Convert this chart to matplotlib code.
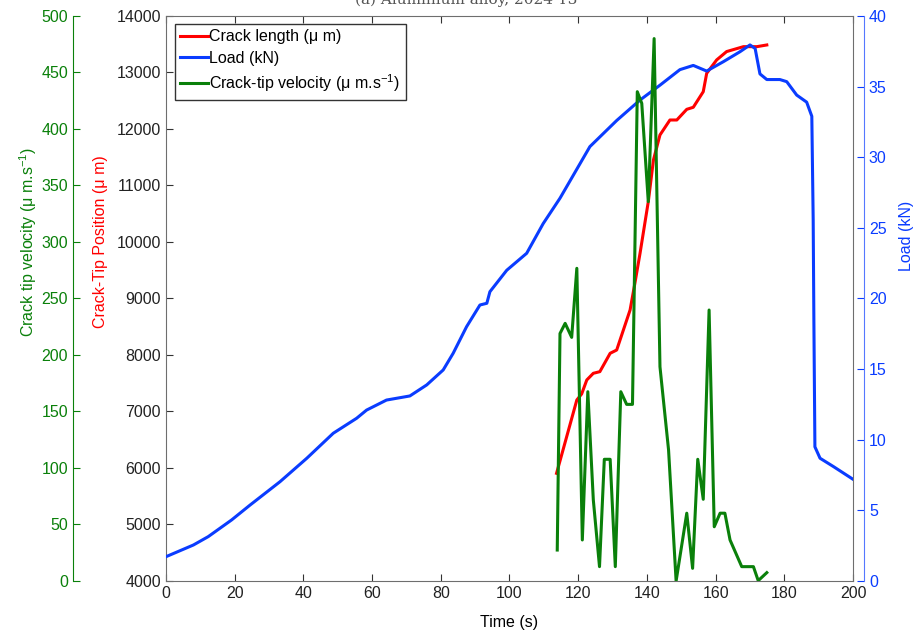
import matplotlib
matplotlib.use("Agg")
import matplotlib.pyplot as plt

plt.rcParams['font.family'] = ['Liberation Sans', 'DejaVu Sans']
plt.rcParams['mathtext.fontset'] = 'custom'
plt.rcParams['mathtext.rm'] = 'Liberation Sans'
plt.rcParams['mathtext.default'] = 'regular'
plt.rcParams['font.size'] = 11.5

# load curve (kN) vs time (s)
load_t = [0, 8, 12.3, 19.1, 24.5, 33.2, 41, 48.7, 55.5, 58.4, 64.2, 71, 75.9, 80.7,
          83.6, 87.5, 91.4, 93.4, 94.3, 99.2, 105, 109.8, 114.7, 123.4, 131.2, 138,
          143.8, 149.6, 153.5, 157.4, 162.3, 167.1, 170, 171.5, 172.9, 174.9, 178.7,
          180.7, 183.6, 186.5, 188, 188.4, 188.6, 188.9, 190.4, 194.3, 200]
load_kn = [1.72, 2.55, 3.14, 4.32, 5.38, 7.03, 8.69, 10.46, 11.52, 12.1, 12.81, 13.1,
           13.88, 14.94, 16.12, 18.0, 19.54, 19.66, 20.48, 22.0, 23.2, 25.3, 27.1,
           30.75, 32.6, 34.05, 35.1, 36.2, 36.5, 36.1, 36.77, 37.47, 37.95, 37.7,
           35.9, 35.5, 35.5, 35.35, 34.4, 33.9, 32.9, 25.56, 18.5, 9.5, 8.69, 8.1, 7.2]

# crack length (um)
crack_t = [113.7, 119.6, 121, 122.5, 124.4, 126.3, 129.3, 131.2, 135.1, 136.5, 138,
           140.4, 141.9, 143.8, 146.7, 148.7, 151.6, 153.5, 156.4, 157.4, 160.3,
           163.2, 168.1, 172, 174.9]
crack_um = [5906, 7204, 7310, 7558, 7676, 7705, 8030, 8088, 8796, 9269, 9800, 10713,
            11451, 11894, 12159, 12159, 12348, 12384, 12660, 12985, 13222, 13370,
            13457, 13457, 13487]

# crack-tip velocity (um/s)
vel_t = [113.9, 114.7, 116.2, 118.1, 119.6, 121.2, 122.8, 124.4, 126.2, 127.6, 129.3,
         130.8, 132.4, 134.1, 135.8, 137.2, 138.5, 140.4, 142.1, 143.8, 146.3, 148.5,
         151.6, 153.3, 154.8, 156.4, 158.1, 159.6, 161.3, 162.7, 164.2, 167.6, 171,
         172.4, 174.9]
vel = [27.4, 219, 228, 215.6, 276.7, 36.3, 167.5, 71.7, 12.7, 107.7, 107.7, 12.7,
       167.5, 156.3, 156.3, 433, 422.7, 335.7, 480, 189.6, 116, 0, 60, 11.2, 107.7,
       72.3, 239.8, 48, 60, 60, 36.3, 12.7, 12.7, 0.3, 7.4]

red = '#ff0000'
blue = '#0a3cff'
green = '#0a800a'
gray = '#6e6e6e'

fig = plt.figure(figsize=(9.23, 6.34), dpi=100)
ax = fig.add_axes([0.1798, 0.0836, 0.7444, 0.8912])

l1, = ax.plot(crack_t, crack_um, color=red, lw=2.2, zorder=3)
ax.set_xlim(0, 200)
ax.set_ylim(4000, 14000)
ax.set_xticks(range(0, 201, 20))
ax.set_yticks(range(4000, 14001, 1000))
ax.tick_params(direction='in', length=5, color='#333333', top=True, right=True,
               labelcolor='#222222')
for s in ax.spines.values():
    s.set_color(gray)
ax.set_xlabel('Time (s)', labelpad=10)
ax.set_ylabel('Crack-Tip Position (μ m)', color=red, labelpad=6, y=0.6)

# load axis on the right
ax2 = ax.twinx()
l2, = ax2.plot(load_t, load_kn, color=blue, lw=2.2)
ax2.set_ylim(0, 40)
ax2.set_yticks(range(0, 41, 5))
ax2.spines['right'].set_position(('axes', 1.016))
ax2.spines['right'].set_color('#5577ff')
for k in ['left', 'top', 'bottom']:
    ax2.spines[k].set_visible(False)
ax2.tick_params(direction='in', length=5, colors=blue)
ax2.set_ylabel('Load (kN)', color=blue, labelpad=9, y=0.61)

# velocity axis far left
ax3 = ax.twinx()
l3, = ax3.plot(vel_t, vel, color=green, lw=2.2)
ax3.set_ylim(0, 500)
ax3.set_yticks(range(0, 501, 50))
ax3.yaxis.set_ticks_position('left')
ax3.yaxis.set_label_position('left')
ax3.spines['left'].set_position(('axes', -0.1354))
ax3.spines['left'].set_visible(True)
ax3.spines['left'].set_color(green)
for k in ['right', 'top', 'bottom']:
    ax3.spines[k].set_visible(False)
ax3.tick_params(direction='in', length=5, colors=green)
ax3.set_ylabel('Crack tip velocity (μ m.s$^{-1}$)', color=green, labelpad=2, y=0.6)

leg = ax3.legend([l1, l2, l3],
                 ['Crack length (μ m)', 'Load (kN)', 'Crack-tip velocity (μ m.s$^{-1}$)'],
                 loc='upper left', bbox_to_anchor=(0.013, 0.986), fancybox=False,
                 edgecolor='#333333', framealpha=1, fontsize=11.5, handlelength=1.7,
                 handletextpad=0.1, borderpad=0.35, labelspacing=0.4, borderaxespad=0)
leg.get_frame().set_linewidth(1.0)

fig.text(0.505, 1.0, '(a) Aluminium alloy, 2024-T3', ha='center', va='center',
         family='DejaVu Serif', fontsize=11, color='#555555')

fig.savefig('out.png', dpi=100)
